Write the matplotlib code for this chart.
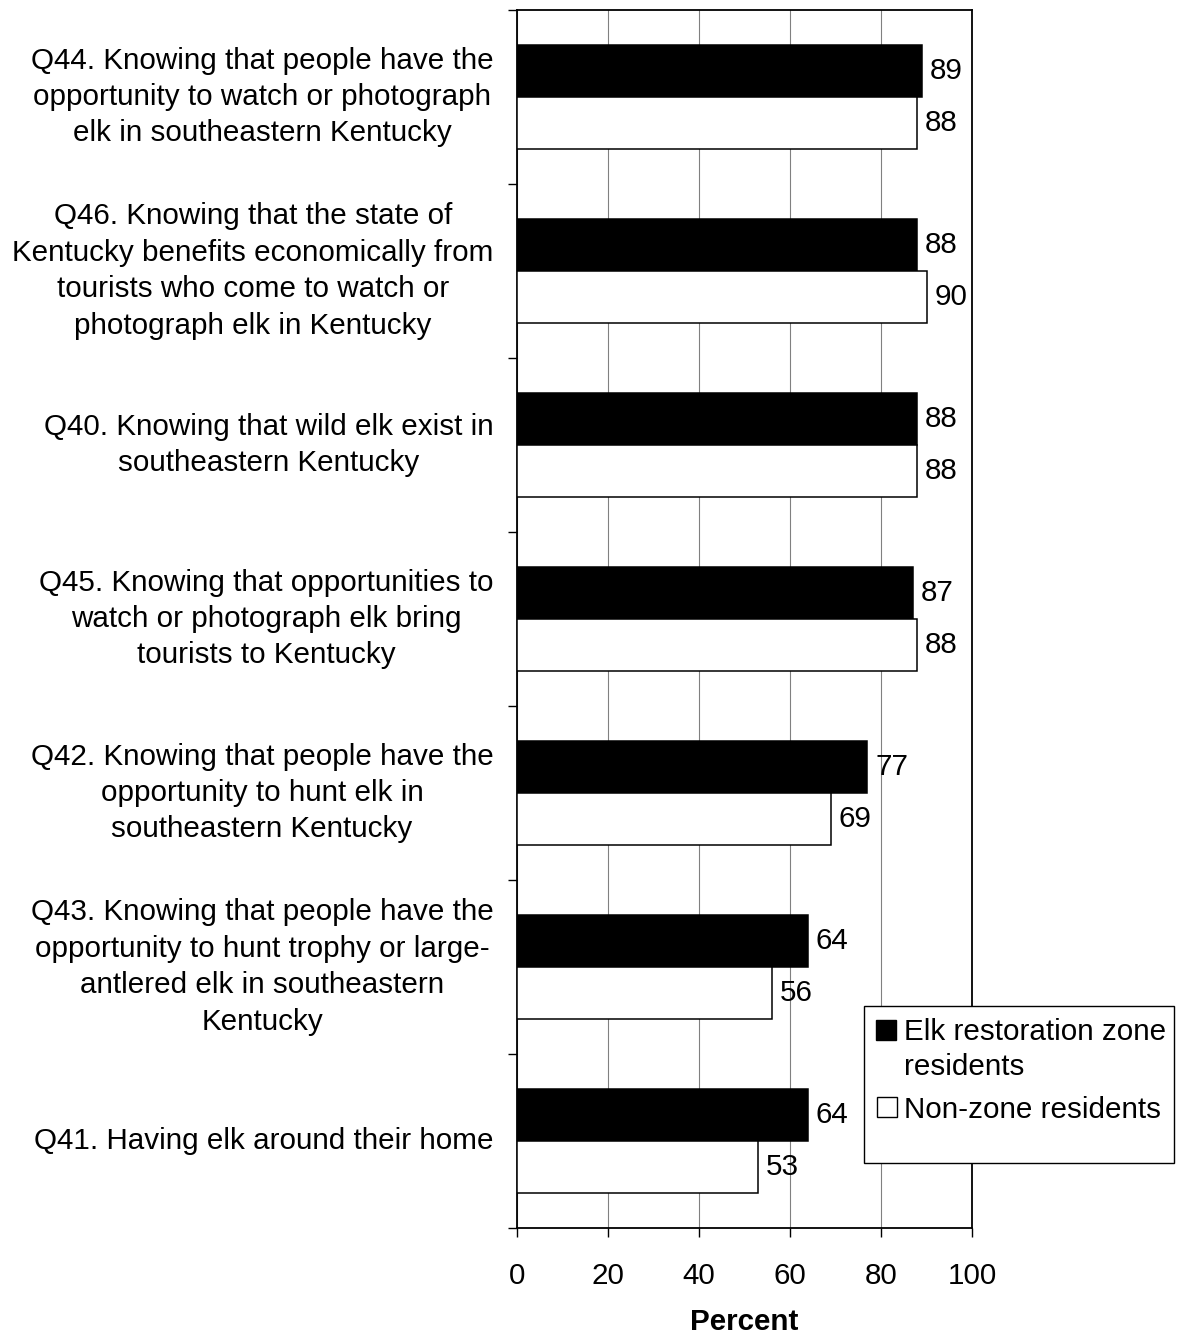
import numpy as np
import matplotlib
matplotlib.use("Agg")
import matplotlib.pyplot as plt
from matplotlib.patches import Rectangle

plt.rcParams['font.family'] = ['Liberation Sans', 'DejaVu Sans']

# data, top to bottom as in the chart
questions = [
    "Q44. Knowing that people have the\nopportunity to watch or photograph\nelk in southeastern Kentucky",
    "Q46. Knowing that the state of\nKentucky benefits economically from\ntourists who come to watch or\nphotograph elk in Kentucky",
    "Q40. Knowing that wild elk exist in\nsoutheastern Kentucky",
    "Q45. Knowing that opportunities to\nwatch or photograph elk bring\ntourists to Kentucky",
    "Q42. Knowing that people have the\nopportunity to hunt elk in\nsoutheastern Kentucky",
    "Q43. Knowing that people have the\nopportunity to hunt trophy or large-\nantlered elk in southeastern\nKentucky",
    "Q41. Having elk around their home",
]
zone_residents = [89, 88, 88, 87, 77, 64, 64]
nonzone_residents = [88, 90, 88, 88, 69, 56, 53]
series_names = ["Elk restoration zone", "residents", "Non-zone residents"]
xticks = [0, 20, 40, 60, 80, 100]

fs = 21.3
W, H = 1177, 1336
fig = plt.figure(figsize=(W/100, H/100), dpi=100)
ax = fig.add_axes([517/W, 1 - 1228/H, (972-517)/W, (1228-10)/H])

y = np.arange(len(questions))
h = 0.3
ax.barh(y - h/2, zone_residents, height=h, color='black', edgecolor='black', linewidth=1.1, zorder=3)
ax.barh(y + h/2, nonzone_residents, height=h, color='white', edgecolor='black', linewidth=1.1, zorder=3)

for i in range(len(questions)):
    ax.text(zone_residents[i] + 1.7, y[i] - h/2, str(zone_residents[i]), va='center', ha='left', fontsize=fs, zorder=4)
    ax.text(nonzone_residents[i] + 1.7, y[i] + h/2, str(nonzone_residents[i]), va='center', ha='left', fontsize=fs, zorder=4)

ax.set_xlim(0, 100)
ax.set_ylim(len(questions) - 0.5, -0.5)
ax.set_xticks(xticks)
ax.set_xticklabels([str(t) for t in xticks], fontsize=fs)
ax.tick_params(axis='x', direction='out', length=6.5, width=1, pad=18)
ax.xaxis.grid(True, color='#808080', linewidth=0.8, zorder=0)
ax.set_axisbelow(True)

ax.set_yticks(y)
ax.set_yticklabels(questions, fontsize=fs, multialignment='center', linespacing=1.38, va='center')
ax.tick_params(axis='y', which='major', length=0, pad=17)
ax.set_yticks(np.arange(len(questions) + 1) - 0.5, minor=True)
ax.tick_params(axis='y', which='minor', direction='out', length=6.5, width=1)

for s in ax.spines.values():
    s.set_linewidth(1.3)
    s.set_color('black')

ax.set_xlabel("Percent", fontsize=fs, fontweight='bold', labelpad=13)

# legend box drawn by hand so the handle sits on the first text line
fig.patches.append(Rectangle((864/W, 1 - 1163/H), 310/W, 157/H, transform=fig.transFigure,
                             facecolor='white', edgecolor='black', linewidth=1.0, zorder=5))
fig.patches.append(Rectangle((876/W, 1 - 1040/H), 20/W, 20/H, transform=fig.transFigure,
                             facecolor='black', edgecolor='black', linewidth=1.0, zorder=6))
fig.patches.append(Rectangle((877/W, 1 - 1117/H), 20/W, 20/H, transform=fig.transFigure,
                             facecolor='white', edgecolor='black', linewidth=1.0, zorder=6))
fig.text(904/W, 1 - 1040/H, series_names[0], fontsize=fs, va='baseline', ha='left', zorder=7)
fig.text(904/W, 1 - 1075/H, series_names[1], fontsize=fs, va='baseline', ha='left', zorder=7)
fig.text(904/W, 1 - 1118/H, series_names[2], fontsize=fs, va='baseline', ha='left', zorder=7)

fig.savefig("out.png", dpi=100)
